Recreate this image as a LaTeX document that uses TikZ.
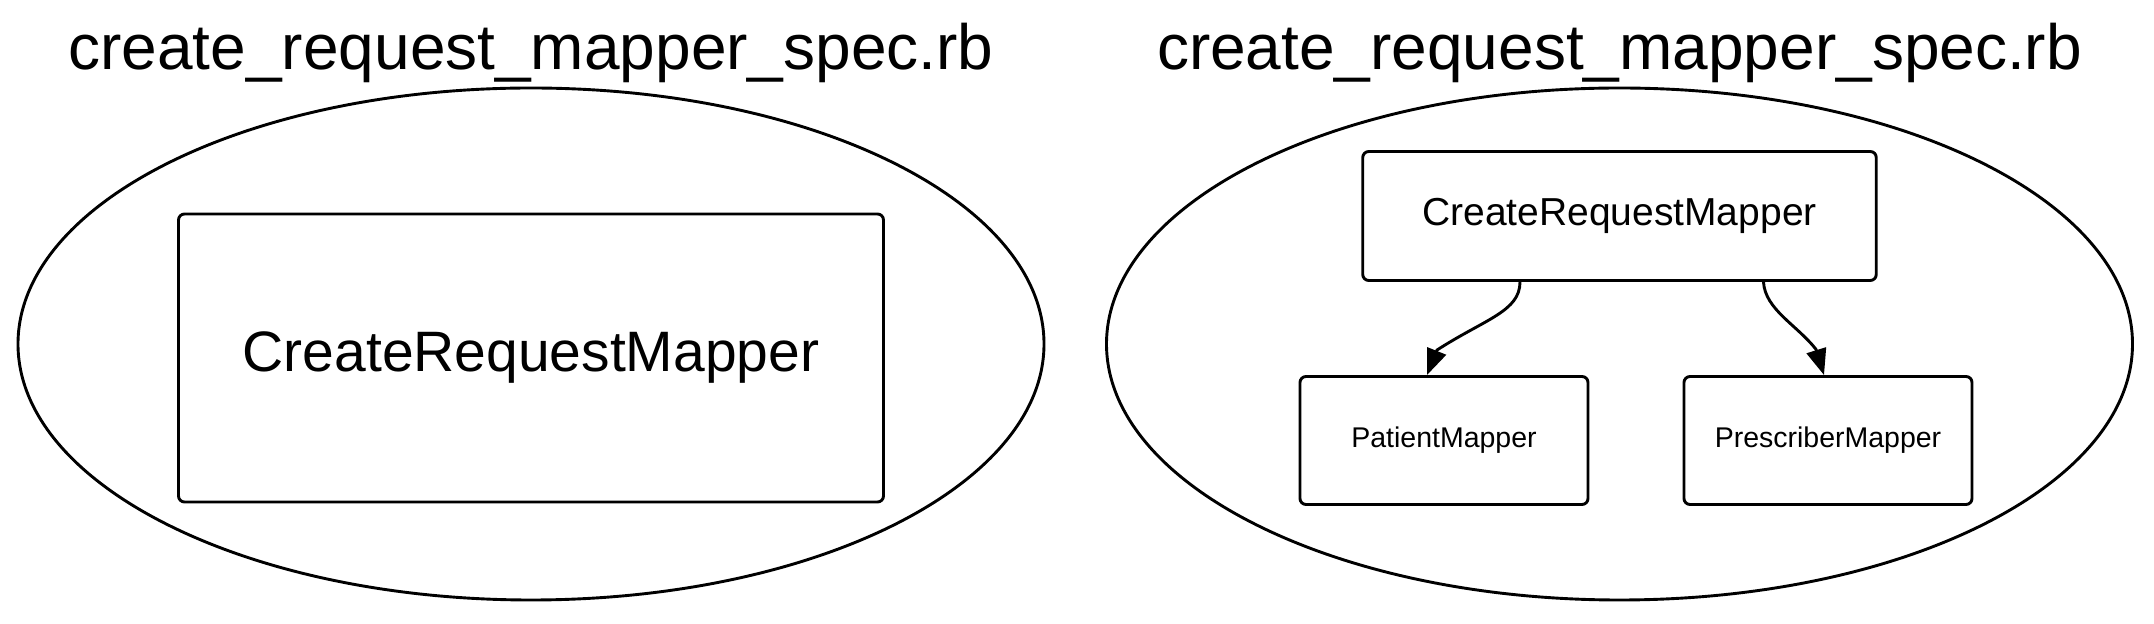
\documentclass[tikz,border=0pt]{standalone}
\usepackage{fontspec}
\setmainfont{Liberation Sans}
\usetikzlibrary{arrows.meta,calc,shapes.geometric}
\begin{document}
\begin{tikzpicture}[x=0.5pt,y=-0.5pt,
  lw/.style={line width=1.45pt},
  box/.style={draw,lw,rounded corners=3pt,inner sep=0pt,rectangle},
  oval/.style={draw,lw,ellipse,inner sep=0pt,minimum width=513pt,minimum height=256pt},
  title/.style={font=\fontsize{32pt}{36pt}\selectfont,anchor=base,inner sep=0pt},
  edge/.style={draw,lw,-{Triangle[length=13pt,width=10pt]}}]
\useasboundingbox (0,0) rectangle (2154,624);
% left cluster
\node[oval] (c1) at (531,344) {};
\node[title] (t1) at (531,70) {create\_request\_mapper\_spec.rb};
\node[box,minimum width=352.5pt,minimum height=144pt,font=\fontsize{28.5pt}{32pt}\selectfont] (crm1) at (531,358) {CreateRequestMapper};
% right cluster
\node[oval] (c2) at (1619.5,344) {};
\node[title] (t2) at (1619.5,70) {create\_request\_mapper\_spec.rb};
\node[box,minimum width=256.75pt,minimum height=64.5pt,font=\fontsize{19.5pt}{22pt}\selectfont] (crm2) at (1619.5,216) {CreateRequestMapper};
\node[box,minimum width=144pt,minimum height=64pt,font=\fontsize{14.25pt}{17pt}\selectfont] (pm) at (1444,440.5) {PatientMapper};
\node[box,minimum width=144pt,minimum height=64pt,font=\fontsize{14.25pt}{17pt}\selectfont] (pres) at (1828,440.5) {PrescriberMapper};
% edges
\draw[edge] ($(crm2.south)+(-99.5,0)$) .. controls ($(crm2.south)+(-99.5,29.5)$) and ($(pm.north)+(41,-56)$) .. ($(pm.north)+(-7,-25)$) -- ($(pm.north)+(-17,0)$);
\draw[edge] ($(crm2.south)+(144,0)$) .. controls ($(crm2.south)+(145.5,27.5)$) and ($(pres.north)+(-31,-50)$) .. ($(pres.north)+(-12,-25.7)$) -- ($(pres.north)+(-4,0)$);
\end{tikzpicture}
\end{document}
